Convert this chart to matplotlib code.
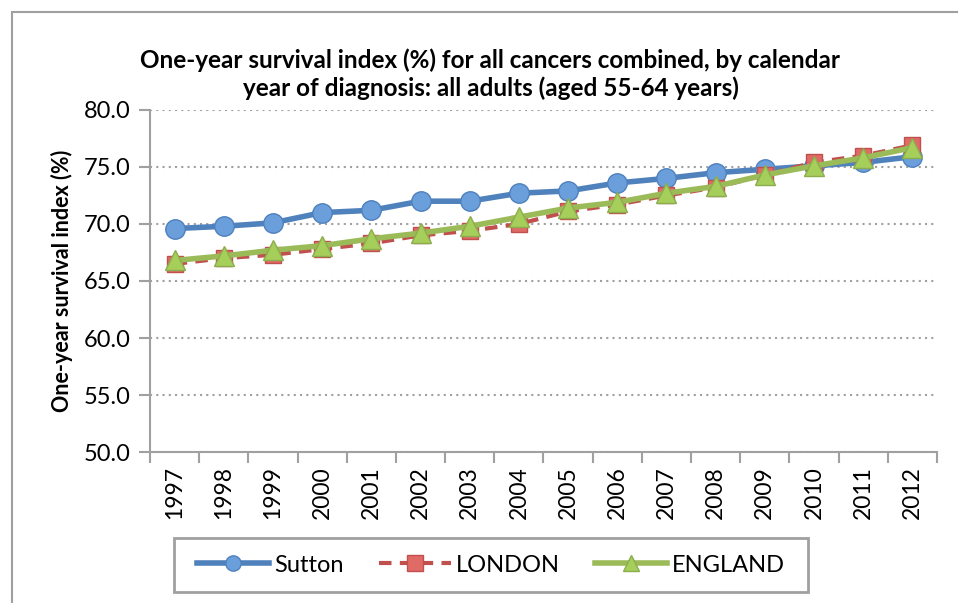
import numpy as np
import matplotlib
matplotlib.use('Agg')
import matplotlib.pyplot as plt
from matplotlib.patches import Rectangle

plt.rcParams['font.family'] = ['Lato', 'DejaVu Sans']

years = [str(y) for y in range(1997, 2013)]
sutton = [69.6, 69.8, 70.1, 71.0, 71.2, 72.0, 72.0, 72.7, 72.9, 73.6, 74.0, 74.5, 74.8, 75.1, 75.4, 75.9]
london = [66.5, 67.0, 67.3, 67.8, 68.3, 69.0, 69.4, 70.0, 71.1, 71.7, 72.5, 73.2, 74.3, 75.4, 76.0, 76.9]
england = [66.8, 67.2, 67.7, 68.1, 68.7, 69.2, 69.8, 70.6, 71.4, 71.9, 72.7, 73.3, 74.3, 75.1, 75.8, 76.7]

W, H = 958, 603
fig = plt.figure(figsize=(W / 100, H / 100), dpi=100)
ax = fig.add_axes([0.1566, 0.2504, 0.8214, 0.5672])

x = np.arange(len(years))
ax.plot(x, sutton, color='#4F81BD', lw=4, marker='o', ms=14,
        mfc='#6A9FDB', mec='#4F81BD', mew=1, label='Sutton', zorder=3)
ax.plot(x, london, color='#C0504D', lw=3, ls=(0, (3, 2)), marker='s', ms=12,
        mfc='#E06A66', mec='#C0504D', mew=1, label='LONDON', zorder=3)
ax.plot(x, england, color='#9BBB59', lw=4, marker='^', ms=15,
        mfc='#A6CE5A', mec='#8CAD4C', mew=1, label='ENGLAND', zorder=4)

ax.set_xlim(-0.5, len(years) - 0.5)
ax.set_ylim(50, 80)
ax.set_yticks(np.arange(50, 80.1, 5))
ax.set_yticklabels([f'{v:.1f}' for v in np.arange(50, 80.1, 5)])
ax.set_xticks(x)
ax.set_xticklabels(years, rotation=90)
ax.set_xticks(np.arange(-0.5, len(years), 1), minor=True)
ax.tick_params(axis='x', which='major', length=0, pad=10, labelsize=16.5)
ax.tick_params(axis='x', which='minor', length=8, color='#A0A0A0', width=1.5)
ax.tick_params(axis='y', length=8, color='#A0A0A0', width=1.5, labelsize=17, pad=6)

ax.grid(axis='y', color='#A0A0A0', ls=(0, (1, 2)), lw=1.5)
ax.set_axisbelow(True)
for s in ['top', 'right']:
    ax.spines[s].set_visible(False)
for s in ['left', 'bottom']:
    ax.spines[s].set_color('#A0A0A0')
    ax.spines[s].set_linewidth(1.5)

ax.set_ylabel('One-year survival index (%)', fontsize=15.5, fontweight='bold', labelpad=8)
fig.text(0.512, 0.877, 'One-year survival index (%) for all cancers combined, by calendar\n'
         'year of diagnosis: all adults (aged 55-64 years)',
         ha='center', va='center', fontsize=17.5, fontweight='bold', linespacing=1.25)

# legend without frame, box drawn separately (wider side padding than matplotlib allows)
leg = fig.legend(loc='center', bbox_to_anchor=(0.5125, 0.063), ncol=3, fontsize=17,
                 frameon=False, handlelength=3.05, handletextpad=0.2,
                 columnspacing=1.5, borderpad=0, borderaxespad=0)
for h in leg.legend_handles:
    h.set_markersize(11)
fig.patches.append(Rectangle((174 / W, 1 - 592 / H), (808 - 174) / W, 54 / H,
                             transform=fig.transFigure, fill=False,
                             edgecolor='#A0A0A0', lw=2))

# outer chart frame
fig.patches.append(Rectangle((12 / W, -0.1), 1.2, 1.1 - 12 / H, transform=fig.transFigure,
                             fill=False, edgecolor='#A0A0A0', lw=1.5))

plt.savefig('out.png', dpi=100)
plt.close()
